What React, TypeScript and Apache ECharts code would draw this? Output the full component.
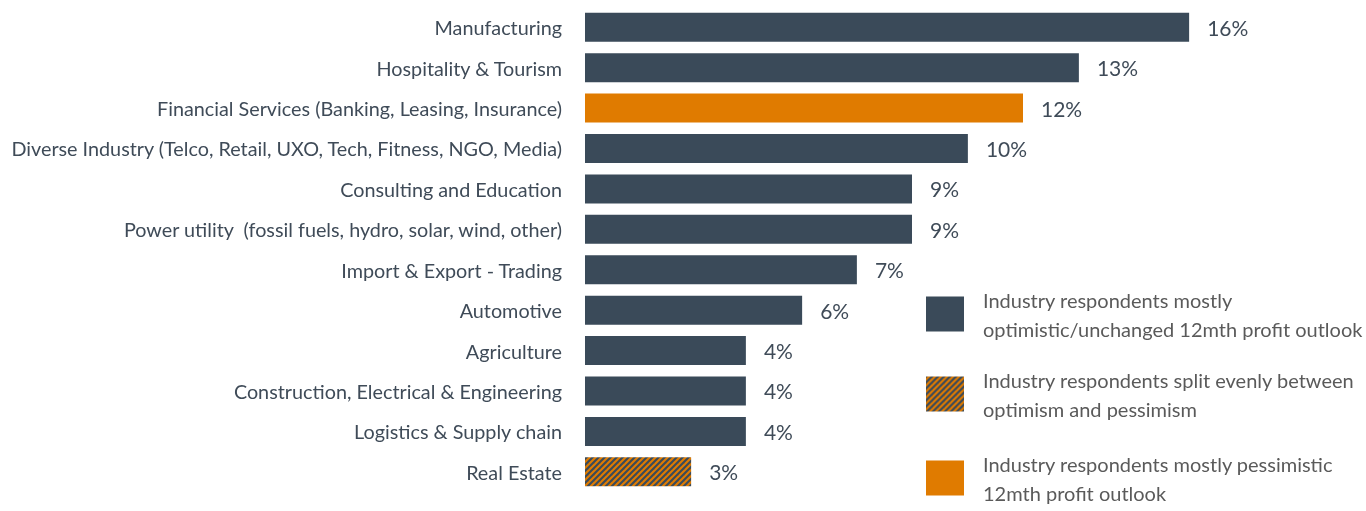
import React, { useEffect, useRef } from "react";
import * as echarts from "echarts";

const categories = [
  "Manufacturing",
  "Hospitality & Tourism",
  "Financial Services (Banking, Leasing, Insurance)",
  "Diverse Industry (Telco, Retail, UXO, Tech, Fitness, NGO, Media)",
  "Consulting and Education",
  "Power utility  (fossil fuels, hydro, solar, wind, other)",
  "Import & Export - Trading",
  "Automotive",
  "Agriculture",
  "Construction, Electrical & Engineering",
  "Logistics & Supply chain",
  "Real Estate",
];
const values = [16.11, 13.17, 11.68, 10.21, 8.72, 8.72, 7.25, 5.79, 4.29, 4.29, 4.29, 2.83];
const outlook = ["opt", "opt", "pes", "opt", "opt", "opt", "opt", "opt", "opt", "opt", "opt", "split"];
const groups = [
  { key: "opt", name: "Industry respondents mostly\noptimistic/unchanged 12mth profit outlook" },
  { key: "split", name: "Industry respondents split evenly between\noptimism and pessimism" },
  { key: "pes", name: "Industry respondents mostly pessimistic\n12mth profit outlook" },
];

const DARK = "#3A4A59";
const ORANGE = "#E07B00";
const TEXT = "#3F4B58";
const LEGEND_TEXT = "#5A5A5A";
const FONT = "Lato";

function hatchUrl(): string {
  const s = 6;
  const c = document.createElement("canvas");
  c.width = s;
  c.height = s;
  const ctx = c.getContext("2d");
  if (!ctx) return "";
  ctx.fillStyle = ORANGE;
  ctx.fillRect(0, 0, s, s);
  ctx.strokeStyle = DARK;
  ctx.lineWidth = 2.1;
  for (const off of [-s, 0, s]) {
    ctx.beginPath();
    ctx.moveTo(off - 1, s + 1);
    ctx.lineTo(off + s + 1, -1);
    ctx.stroke();
  }
  return c.toDataURL();
}

export default function App() {
  const ref = useRef<HTMLDivElement>(null);
  useEffect(() => {
    if (!ref.current) return;
    const chart = echarts.init(ref.current, null, { renderer: "svg" });
    const hatch = { image: hatchUrl(), repeat: "repeat" };
    const colorOf: Record<string, any> = { opt: DARK, split: hatch, pes: ORANGE };
    const legendTops = [285, 365, 449];
    chart.setOption({
      animation: false,
      textStyle: { fontFamily: FONT },
      grid: { left: 585, right: 31, top: 7, bottom: 19, containLabel: false },
      xAxis: { type: "value", min: 0, max: 20, show: false },
      yAxis: {
        type: "category",
        data: categories,
        inverse: true,
        axisLine: { show: false },
        axisTick: { show: false },
        axisLabel: { color: TEXT, fontSize: 19.8, fontFamily: FONT, margin: 23 },
      },
      legend: groups.map((g, i) => ({
        orient: "vertical",
        left: 926,
        top: legendTops[i],
        padding: 0,
        itemWidth: 38,
        itemHeight: 35,
        icon: "rect",
        selectedMode: false,
        textStyle: { color: LEGEND_TEXT, fontSize: 20, fontFamily: FONT, lineHeight: 29, padding: [0, 0, 0, 14] },
        data: [g.name],
      })),
      series: groups.map((g) => ({
        type: "bar",
        name: g.name,
        stack: "all",
        barWidth: 29,
        itemStyle: { color: colorOf[g.key] },
        label: {
          show: true,
          position: "right",
          distance: 18,
          color: TEXT,
          fontSize: 21,
          fontFamily: FONT,
          formatter: (p: any) => Math.round(p.value) + "%",
        },
        data: values.map((v, i) => (outlook[i] === g.key ? v : "-")),
      })),
    });
    return () => chart.dispose();
  }, []);
  return <div ref={ref} style={{ position: "fixed", left: 0, top: 0, width: 1366, height: 511 }} />;
}
